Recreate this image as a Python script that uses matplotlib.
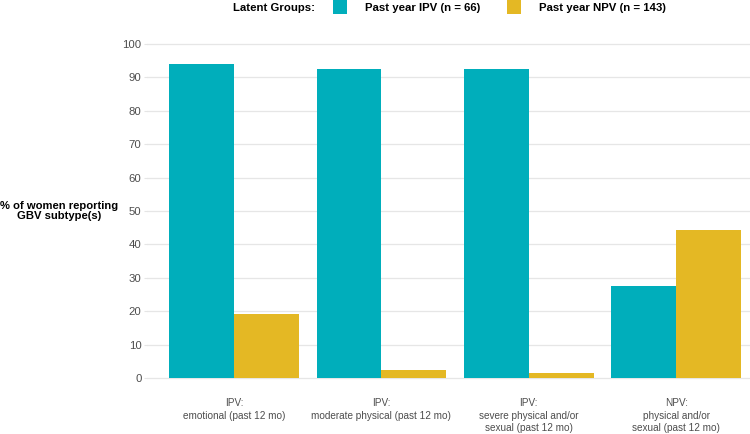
import numpy as np
import matplotlib.pyplot as plt
from matplotlib.patches import Patch

plt.rcParams['font.family'] = ['Liberation Sans', 'DejaVu Sans']

# data
categories = ["IPV:\nemotional (past 12 mo)",
              "IPV:\nmoderate physical (past 12 mo)",
              "IPV:\nsevere physical and/or\nsexual (past 12 mo)",
              "NPV:\nphysical and/or\nsexual (past 12 mo)"]
ipv_values = [94.1, 92.5, 92.5, 27.5]
npv_values = [19.1, 2.3, 1.6, 44.2]
groups = ["Past year IPV (n = 66)", "Past year NPV (n = 143)"]
colors = ["#00AEBB", "#E4B824"]
yticks = list(range(0, 101, 10))

fig = plt.figure(figsize=(7.5, 4.34), dpi=100)
# axes placed in pixels: left 147, right 750, top 40, bottom 383
ax = fig.add_axes([147 / 750, 1 - 383 / 434, (750 - 147) / 750, (383 - 40) / 434])

x = np.arange(len(categories))
w = 0.44
ax.bar(x - w / 2, ipv_values, w, color=colors[0], zorder=2)
ax.bar(x + w / 2, npv_values, w, color=colors[1], zorder=2)

ax.set_xlim(-0.59, 3.5)
ax.set_ylim(-1.5, 101.2)
ax.set_yticks(yticks)
ax.set_xticks(x)
ax.set_xticklabels(categories, fontsize=7.2, color="#4D4D4D", linespacing=1.28)
ax.tick_params(axis="y", labelsize=8.2, labelcolor="#4D4D4D", length=2, color="#E5E5E5", pad=2)
ax.tick_params(axis="x", length=0, pad=11)
ax.grid(axis="y", color="#E6E6E6", linewidth=0.9, zorder=0)
for s in ax.spines.values():
    s.set_visible(False)

fig.text(59 / 750, 1 - 211 / 434, "% of women reporting\nGBV subtype(s)", fontsize=8.1,
         fontweight="bold", ha="center", va="center", linespacing=1.1)

# legend along the top
fig.text(233 / 750, 1 - 8 / 434, "Latent Groups:", fontsize=8.2, fontweight="bold",
         ha="left", va="center")
handles = [Patch(facecolor=c, edgecolor="none") for c in colors]
leg = fig.legend(handles, groups, loc="center left", bbox_to_anchor=(333 / 750, 1 - 7 / 434),
                 ncol=2, frameon=False, prop={"weight": "bold", "size": 8.2},
                 handlelength=1.25, handleheight=1.4, handletextpad=1.6, columnspacing=2.3,
                 borderaxespad=0, borderpad=0)

fig.savefig("out.png", dpi=100)
